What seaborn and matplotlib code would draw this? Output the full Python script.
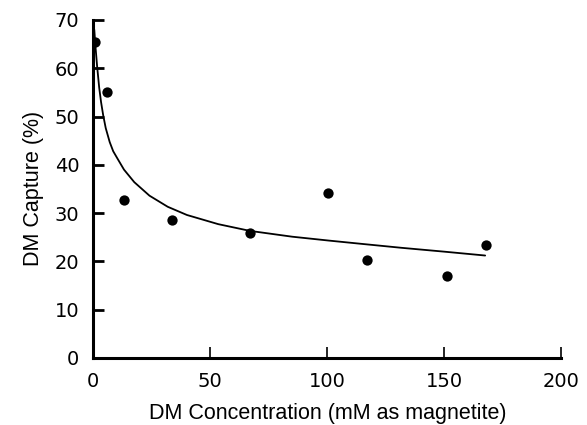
import matplotlib
matplotlib.use("Agg")
import matplotlib.pyplot as plt
import seaborn as sns
import pandas as pd

# measured points
conc = [0.6, 5.9, 13.1, 33.7, 67.0, 100.5, 117.0, 151.0, 168.0]
capture = [65.5, 55.0, 32.7, 28.5, 25.8, 34.2, 20.3, 16.9, 23.3]

# fitted curve
fit_x = [0.4, 0.7, 1.0, 1.6, 2.5, 3.3, 4.2, 5.3, 7.0, 8.5, 10.3, 13.1, 17.5,
         24.0, 31.8, 40.0, 53.4, 67.0, 85.0, 100.6, 115.0, 131.7, 150.0, 167.5]
fit_y = [68.0, 66.0, 64.0, 60.5, 56.0, 53.0, 50.3, 47.6, 44.7, 42.8, 41.3, 39.0, 36.4,
         33.6, 31.3, 29.6, 27.7, 26.3, 25.1, 24.3, 23.6, 22.8, 22.0, 21.2]

sns.set_style("ticks")
plt.rcParams['font.family'] = ['Liberation Sans', 'DejaVu Sans']
plt.rcParams['text.color'] = 'black'
plt.rcParams['axes.labelcolor'] = 'black'
plt.rcParams['xtick.color'] = 'black'
plt.rcParams['ytick.color'] = 'black'

pts = pd.DataFrame({'x': conc, 'y': capture})
fit = pd.DataFrame({'x': fit_x, 'y': fit_y})

fig = plt.figure(figsize=(5.87, 4.25), dpi=100)
ax = fig.add_axes([0.159, 0.158, 0.797, 0.795])

sns.lineplot(data=fit, x='x', y='y', ax=ax, color='black', linewidth=1.3,
             estimator=None, sort=False)
sns.scatterplot(data=pts, x='x', y='y', ax=ax, color='black', s=55,
                edgecolor='black', linewidth=0, zorder=3)

ax.set_xlim(0, 200)
ax.set_ylim(0, 70)
ax.set_xticks([0, 50, 100, 150, 200])
ax.set_yticks(range(0, 71, 10))
ax.set_xlabel('DM Concentration (mM as magnetite)', fontsize=15.5, labelpad=9)
ax.set_ylabel('DM Capture (%)', fontsize=15.5, labelpad=8)

for side in ['top', 'right']:
    ax.spines[side].set_visible(False)
for side in ['left', 'bottom']:
    ax.spines[side].set_linewidth(2.2)
    ax.spines[side].set_color('black')

ax.tick_params(axis='y', direction='in', length=8, width=2, pad=10)
ax.tick_params(axis='x', direction='in', length=8, width=1.2, pad=10)
for lab in ax.get_xticklabels() + ax.get_yticklabels():
    lab.set_fontfamily('DejaVu Sans')
    lab.set_fontsize(14)

fig.savefig('out.png', dpi=100)
